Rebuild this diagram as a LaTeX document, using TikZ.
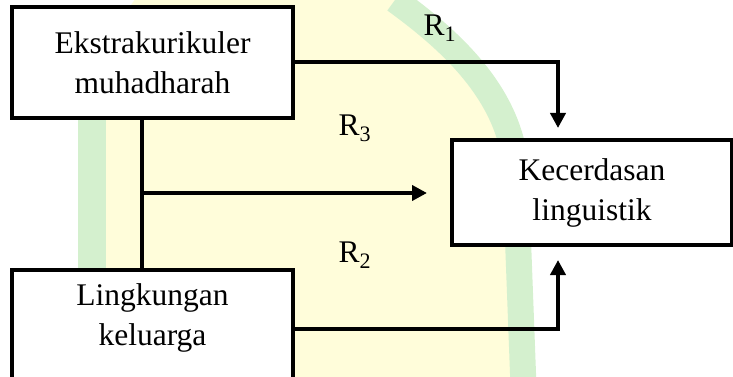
\documentclass[tikz,border=0pt]{standalone}
\usepackage{fontspec}
\setmainfont{Liberation Serif}
\usetikzlibrary{arrows.meta,calc}
\definecolor{wmyellow}{RGB}{255,253,218}
\definecolor{wmgreen}{RGB}{212,240,206}
\begin{document}
\begin{tikzpicture}[x=1pt,y=-1pt,
  box/.style={draw=black,line width=4pt,fill=white,inner sep=0pt,align=center,
    font=\fontsize{31.5}{40}\selectfont},
  lbl/.style={inner sep=0pt,font=\fontsize{31.5}{40}\selectfont},
  conn/.style={line width=4pt},
  arr/.style={line width=4pt,-{Triangle[length=15pt,width=15pt]}}]
\useasboundingbox (0,0) rectangle (733,377);
% faint background watermark
\begin{scope}
\clip (0,0) rectangle (733,377);
\fill[wmyellow] (92,400) -- (92,160) .. controls (92,-100) and (300,-90) .. (395,0)
  .. controls (450,40) and (505,90) .. (515,160) -- (524,400) -- cycle;
\draw[wmgreen,line width=26pt] (395,0) .. controls (450,40) and (505,90) .. (515,160) -- (524,400);
\draw[wmgreen,line width=28pt] (92,400) -- (92,120);
\end{scope}
% boxes
\node[box,minimum width=281pt,minimum height=111pt] (A) at (152.5,62.5) {Ekstrakurikuler\\muhadharah};
\node[box,minimum width=281pt,minimum height=112pt] (B) at (152.5,326) {};
\node[lbl,align=center] (Bt) at (152.5,318) {Lingkungan\\keluarga};
\node[box,minimum width=280pt,minimum height=105pt] (C) at (592,192.5) {Kecerdasan\\linguistik};
% labels
\node[lbl] (r1) at (440,28) {R\textsubscript{1}};
\node[lbl] (r3) at (355,128) {R\textsubscript{3}};
\node[lbl] (r2) at (355,255) {R\textsubscript{2}};
% connectors
\coordinate (t1) at (558,128);
\coordinate (t2) at (558,260);
\coordinate (j) at (142,193);
\coordinate (t3) at (427,193);
\draw[arr] (A.east) -| (t1);
\draw[arr] ([yshift=-3pt]B.east) -| (t2);
\draw[conn] (A.south -| j) -- (B.north -| j);
\draw[arr] ([xshift=-2pt]j) -- (t3);
\end{tikzpicture}
\end{document}
